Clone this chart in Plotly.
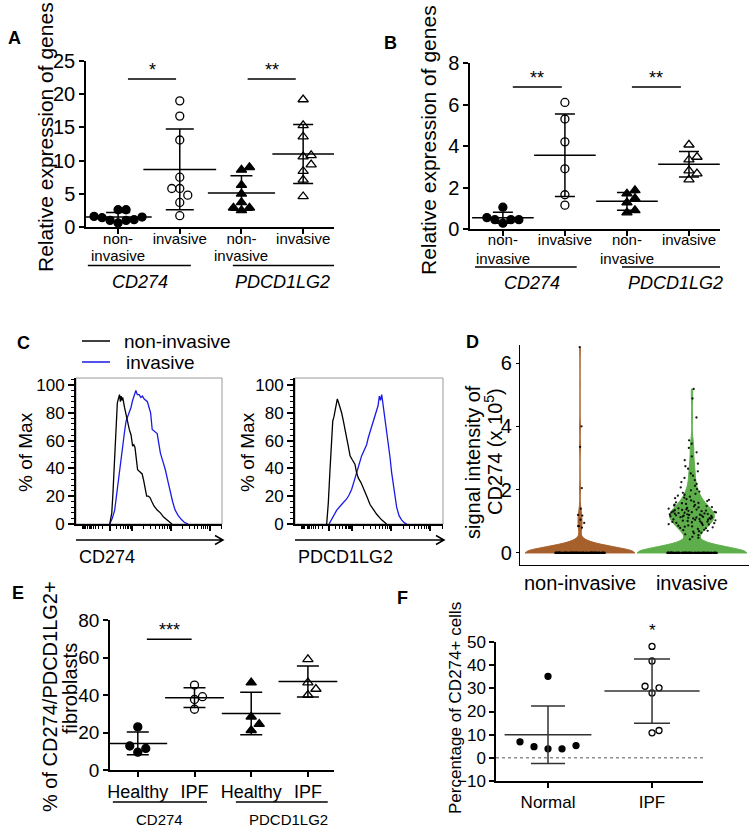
import numpy as np
import plotly.graph_objects as go

W, H = 754, 830
FONT = "Liberation Sans, Arial, Helvetica, sans-serif"

# ---------------- data ----------------
# Panel A (relative expression, qPCR)
A_TICKS_ROW1 = ["non-", "invasive", "non-", "invasive"]
A_TICKS_ROW2 = ["invasive", "", "invasive", ""]
A_GROUPS = ["<i>CD274</i>", "<i>PDCD1LG2</i>"]
A_CD274_NON = [1.6, 1.5, 2.6, 2.6, 1.4, 1.0, 1.0, 1.1, 0.6]
A_CD274_INV = [19.0, 16.7, 13.1, 7.5, 5.8, 5.8, 4.8, 3.7, 1.7]
A_PD_NON = [9.0, 8.6, 6.3, 5.0, 3.7, 2.9, 2.9, 2.5]
A_PD_INV = [19.2, 15.3, 13.6, 10.8, 10.6, 9.4, 8.4, 7.1, 4.6]
A_SIG = ["*", "**"]
A_SIG_Y = 22.3
A_YTICKS = [0, 5, 10, 15, 20, 25]

# Panel B
B_TICKS_ROW1 = A_TICKS_ROW1
B_TICKS_ROW2 = A_TICKS_ROW2
B_GROUPS = A_GROUPS
B_CD274_NON = [0.55, 0.45, 0.45, 1.05, 0.45, 0.28]
B_CD274_INV = [6.1, 5.3, 4.2, 2.9, 1.65, 1.15]
B_PD_NON = [1.7, 1.86, 1.48, 1.27, 0.9, 0.79]
B_PD_INV = [4.06, 3.47, 3.34, 2.81, 2.67, 2.38]
B_SIG = ["**", "**"]
B_SIG_Y = 6.84
B_YTICKS = [0, 2, 4, 6, 8]

# Panel C (flow histograms, % of max vs channel)
C_LEGEND = ["non-invasive", "invasive"]
C1_BLACK_X = [23.1, 24.5, 25.3, 26.2, 26.9, 27.6, 28.3, 29.0, 29.8, 30.4,
              30.9, 31.5, 32.0, 33.2, 34.3, 35.4, 36.5, 37.7, 38.8, 39.6,
              40.4, 41.3, 42.2, 43.3, 44.4, 45.3, 46.2, 47.3, 48.4, 49.5,
              50.7, 52.0, 53.4, 55.6, 57.8, 60.0, 62.3, 64.0, 65.7]
C1_BLACK_Y = [0, 8, 22, 40, 56, 75, 87, 90, 93, 88,
              92, 89, 91, 84, 78, 72, 68, 64, 56, 57,
              55, 47, 39, 38, 37, 36, 32, 26, 20, 20,
              19, 16, 13, 10, 8, 5, 3, 1.5, 0]
C1_BLUE_X = [23.1, 24.8, 26.5, 28.2, 29.8, 31.0, 32.0, 33.2, 34.3, 35.4,
             36.5, 37.7, 38.8, 40.0, 41.0, 42.0, 43.3, 44.4, 45.5, 46.6,
             47.8, 48.9, 50.0, 51.1, 52.2, 53.3, 54.4, 55.6, 56.7, 57.8,
             59.5, 61.2, 62.9, 64.6, 66.2, 67.9, 70.0, 72.4, 74.5, 76.9]
C1_BLUE_Y = [0, 4, 10, 25, 39, 49, 58, 66, 74, 77,
             80, 84, 89, 93, 96, 93, 93, 91, 92, 90,
             89, 88, 84, 80, 68, 67, 66, 65, 58, 51,
             45, 39, 31, 22, 16, 10, 6, 3, 1, 0]
C2_BLACK_X = [21.4, 22.5, 23.6, 24.6, 25.5, 26.3, 27.0, 27.8, 28.6, 29.5,
              30.4, 31.5, 32.7, 33.8, 34.9, 36.0, 37.2, 38.8, 40.5, 41.6,
              42.8, 44.5, 46.2, 48.5, 50.7, 53.0, 55.2, 58.5, 61.9]
C2_BLACK_Y = [0, 15, 38, 60, 74, 77, 81, 86, 90, 87,
              84, 80, 74, 69, 62, 56, 49, 46, 43, 37,
              33, 30, 26, 20, 14, 10, 7, 3, 0]
C2_BLUE_X = [23.0, 25.0, 28.2, 31.5, 34.9, 36.6, 38.3, 40.0, 41.7, 42.8,
             45.0, 46.7, 48.4, 49.5, 50.7, 51.8, 52.9, 54.0, 55.2, 56.1,
             57.0, 57.8, 58.6, 59.7, 61.3, 63.0, 64.2, 65.3, 67.0, 68.7,
             70.3, 72.0, 73.8, 75.5]
C2_BLUE_Y = [0, 4, 10, 14, 18, 21, 25, 31, 38, 41,
             49, 53, 57, 62, 66, 70, 74, 78, 82, 85,
             92, 89, 93, 84, 72, 60, 48, 37, 24, 12,
             6, 3, 1, 0]
C_XLABELS = ["CD274", "PDCD1LG2"]
C_YTICKS = [0, 20, 40, 60, 80, 100]

# Panel D (single-cell signal, x 10^5)
D_CATS = ["non-invasive", "invasive"]
D_NON_ZERO_COUNT = 150
D_NON_NONZERO = [6.5, 4.0, 3.35, 2.05, 1.4, 1.2, 1.18, 1.05, 0.95, 0.85, 0.85, 0.8]
D_INV_ZERO_COUNT = 120
D_INV_NONZERO = [
    0.43, 0.48, 0.51, 0.56, 0.59, 0.62, 0.64, 0.67, 0.69, 0.70,
    0.72, 0.73, 0.76, 0.78, 0.79, 0.81, 0.83, 0.84, 0.86, 0.87,
    0.88, 0.90, 0.91, 0.93, 0.94, 0.95, 0.96, 0.97, 0.98, 0.99,
    1.00, 1.01, 1.02, 1.03, 1.05, 1.05, 1.06, 1.07, 1.08, 1.09,
    1.10, 1.11, 1.12, 1.12, 1.13, 1.14, 1.15, 1.16, 1.17, 1.18,
    1.18, 1.19, 1.20, 1.21, 1.22, 1.22, 1.23, 1.24, 1.25, 1.26,
    1.27, 1.28, 1.28, 1.29, 1.30, 1.31, 1.32, 1.33, 1.34, 1.35,
    1.36, 1.37, 1.38, 1.40, 1.41, 1.42, 1.44, 1.45, 1.47, 1.48,
    1.50, 1.52, 1.53, 1.55, 1.57, 1.58, 1.60, 1.62, 1.64, 1.66,
    1.68, 1.70, 1.73, 1.75, 1.78, 1.81, 1.84, 1.87, 1.90, 1.94,
    1.98, 2.02, 2.07, 2.12, 2.18, 2.24, 2.30, 2.37, 2.44, 2.51,
    2.58, 2.66, 2.74, 2.82, 2.93, 3.05, 3.18, 3.32, 3.45, 3.56,
    4.28, 4.88, 5.18]
D_YTICKS = [0, 2, 4, 6]

# Panel E
E_TICKS = ["Healthy", "IPF", "Healthy", "IPF"]
E_GROUPS = ["CD274", "PDCD1LG2"]
E_CD274_H = [23.0, 12.8, 11.5, 9.5]
E_CD274_IPF = [45.3, 39.1, 37.6, 32.4]
E_PD_H = [46.6, 28.4, 24.5, 21.2]
E_PD_IPF = [59.0, 46.6, 43.2, 40.0]
E_SIG = "***"
E_SIG_Y = 69.7
E_YTICKS = [0, 20, 40, 60, 80]

# Panel F
F_CATS = ["Normal", "IPF"]
F_NORMAL = [35.2, 6.9, 5.3, 4.8, 3.9, 3.9]
F_IPF = [48.1, 41.8, 30.9, 30.2, 28.0, 11.8, 10.8]
F_SIG = "*"
F_YTICKS = [-10, 0, 10, 20, 30, 40, 50]

# ---------------- helpers ----------------
def px_x(p):
    return p / W


def px_y(p):
    return 1 - p / H


def swarm(vals, ppu, d):
    """beeswarm offsets in px for values (ppu = px per data unit)."""
    vals = list(vals)
    order = np.argsort(vals, kind="stable")
    placed = []
    offs = [0.0] * len(vals)
    cands = [0.0]
    for j in range(1, 25):
        cands += [j * d, -j * d]
    for i in order:
        v = vals[i]
        for c in cands:
            if all(np.hypot((v - pv) * ppu, c - po) >= d * 0.98 for pv, po in placed):
                break
        placed.append((v, c))
        offs[i] = c
    return np.array(offs)


fig = go.Figure()
annotations = []
shapes = []


def ann(text, xpx, ypx, size, bold=False, **kw):
    t = f"<b>{text}</b>" if bold else text
    d = dict(text=t, x=px_x(xpx), y=px_y(ypx), xref="paper", yref="paper",
             showarrow=False, font=dict(size=size, family=FONT, color="black"),
             xanchor="center", yanchor="middle")
    d.update(kw)
    annotations.append(d)


def dot_group(ax, cat, vals, symbol, ppu, ppc, d, msize, mean_w, cap_w,
              col="black", lw=1.5, mlw=1.3):
    offs = swarm(vals, ppu, d) / ppc
    xs = cat + offs
    fig.add_trace(go.Scatter(
        x=xs, y=vals, mode="markers", xaxis="x" + ax, yaxis="y" + ax,
        marker=dict(symbol=symbol, size=msize, color="black",
                    line=dict(width=mlw, color="black")),
        cliponaxis=False, showlegend=False, hoverinfo="y"))
    m = float(np.mean(vals))
    s = float(np.std(vals, ddof=1))
    fig.add_trace(go.Scatter(
        x=[cat], y=[m], mode="markers", xaxis="x" + ax, yaxis="y" + ax,
        marker=dict(symbol="line-ew", size=mean_w, color=col,
                    line=dict(width=lw, color=col)),
        error_y=dict(type="data", array=[s], width=cap_w, thickness=lw, color=col),
        cliponaxis=False, showlegend=False, hoverinfo="skip"))


axis_common = dict(showgrid=False, zeroline=False, showline=True, linecolor="black",
                   ticks="outside", tickcolor="black", automargin=False)

layout_axes = {}


def set_axes(ax, xdom, ydom, xr, yr, xtv, xtt, ytv, xfont, yfont, lw=1.5,
             xticklen=5, yticklen=5, extra_x=None, extra_y=None):
    xa = dict(axis_common, domain=[px_x(xdom[0]), px_x(xdom[1])], range=xr,
              tickvals=xtv, tickfont=dict(size=xfont, family=FONT, color="black"),
              linewidth=lw, tickwidth=lw, ticklen=xticklen, anchor="y" + ax)
    if xtt is not None:
        xa["ticktext"] = xtt
    ya = dict(axis_common, domain=[px_y(ydom[1]), px_y(ydom[0])], range=yr,
              tickvals=ytv, tickfont=dict(size=yfont, family=FONT, color="black"),
              linewidth=lw, tickwidth=lw, ticklen=yticklen, anchor="x" + ax)
    if extra_x:
        xa.update(extra_x)
    if extra_y:
        ya.update(extra_y)
    layout_axes["xaxis" + ax] = xa
    layout_axes["yaxis" + ax] = ya


def second_row(xref, row2, ypx, size):
    for i, t in enumerate(row2):
        if t:
            annotations.append(dict(text=t, x=i, y=px_y(ypx), xref=xref, yref="paper",
                                    showarrow=False,
                                    font=dict(size=size, family=FONT, color="black"),
                                    xanchor="center", yanchor="middle"))


def arrow(x0, x1, ypx):
    path = (f"M {px_x(x0)},{px_y(ypx)} L {px_x(x1)},{px_y(ypx)} "
            f"M {px_x(x1 - 8)},{px_y(ypx - 4.5)} L {px_x(x1)},{px_y(ypx)} "
            f"L {px_x(x1 - 8)},{px_y(ypx + 4.5)}")
    shapes.append(dict(type="path", path=path, xref="paper", yref="paper",
                       line=dict(color="black", width=1.5)))


# ---------------- Panel A ----------------
A_PPU = 166 / 25
A_PPC = 61.7
dot_group("", 0, A_CD274_NON, "circle", A_PPU, A_PPC, 8, 8, 48, 12)
dot_group("", 1, A_CD274_INV, "circle-open", A_PPU, A_PPC, 8, 8, 52, 14)
dot_group("", 2, A_PD_NON, "triangle-up", A_PPU, A_PPC, 8, 9, 48, 11)
dot_group("", 3, A_PD_INV, "triangle-up-open", A_PPU, A_PPC, 8, 9, 44, 10)
set_axes("", (86, 334), (61, 227), [-0.52, 3.5], [0, 25], [0, 1, 2, 3], A_TICKS_ROW1,
         A_YTICKS, 15, 20, extra_x=dict(ticklabelstandoff=-8))
second_row("x", A_TICKS_ROW2, 256, 15)
for g, (x0, x1, xc) in enumerate([(-0.49, 1.18, 0.36), (1.86, 3.5, 2.67)]):
    shapes.append(dict(type="line", xref="x", yref="paper", x0=x0, x1=x1,
                       y0=px_y(265.5), y1=px_y(265.5), line=dict(color="black", width=1.5)))
    annotations.append(dict(text=A_GROUPS[g], x=xc, y=px_y(282), xref="x", yref="paper",
                            showarrow=False, font=dict(size=18, family=FONT, color="black"),
                            xanchor="center", yanchor="middle"))
for k, (x0, x1) in enumerate([(0.16, 0.94), (2.1, 2.88)]):
    shapes.append(dict(type="line", xref="x", yref="y", x0=x0, x1=x1, y0=A_SIG_Y, y1=A_SIG_Y,
                       line=dict(color="black", width=1.5)))
    annotations.append(dict(text=A_SIG[k], x=(x0 + x1) / 2, y=A_SIG_Y, xref="x", yref="y",
                            showarrow=False, font=dict(size=18, family=FONT, color="black"),
                            xanchor="center", yanchor="bottom", yshift=-3))
ann("Relative expression of genes", 45, 137, 21, textangle=-90)
ann("A", 14, 38, 18, bold=True)

# ---------------- Panel B ----------------
B_PPU = 166 / 8
B_PPC = 62
dot_group("2", 0, B_CD274_NON, "circle", B_PPU, B_PPC, 8, 8, 44, 10)
dot_group("2", 1, B_CD274_INV, "circle-open", B_PPU, B_PPC, 8, 8, 44, 10)
dot_group("2", 2, B_PD_NON, "triangle-up", B_PPU, B_PPC, 8, 9, 44, 10)
dot_group("2", 3, B_PD_INV, "triangle-up-open", B_PPU, B_PPC, 8, 9, 44, 10)
set_axes("2", (470, 720), (63, 229), [-0.53, 3.5], [0, 8], [0, 1, 2, 3], B_TICKS_ROW1,
         B_YTICKS, 15, 20, extra_x=dict(ticklabelstandoff=-9))
second_row("x2", B_TICKS_ROW2, 258, 15)
for g, (x0, x1, xc) in enumerate([(-0.45, 1.19, 0.47), (1.92, 3.53, 2.79)]):
    shapes.append(dict(type="line", xref="x2", yref="paper", x0=x0, x1=x1,
                       y0=px_y(267), y1=px_y(267), line=dict(color="black", width=1.5)))
    annotations.append(dict(text=B_GROUPS[g], x=xc, y=px_y(283), xref="x2", yref="paper",
                            showarrow=False, font=dict(size=18, family=FONT, color="black"),
                            xanchor="center", yanchor="middle"))
for k, (x0, x1) in enumerate([(0.16, 0.95), (2.08, 2.87)]):
    shapes.append(dict(type="line", xref="x2", yref="y2", x0=x0, x1=x1, y0=B_SIG_Y, y1=B_SIG_Y,
                       line=dict(color="black", width=1.5)))
    annotations.append(dict(text=B_SIG[k], x=(x0 + x1) / 2, y=B_SIG_Y, xref="x2", yref="y2",
                            showarrow=False, font=dict(size=18, family=FONT, color="black"),
                            xanchor="center", yanchor="bottom", yshift=-3))
ann("Relative expression of genes", 428, 140, 21, textangle=-90)
ann("B", 390, 43, 18, bold=True)

# ---------------- Panel C ----------------
C_MAJOR = [23.0, 38.5, 65.0, 91.5]
C_MINOR = sorted(
    [23.0 + np.log10(k) * 15.5 for k in range(2, 10)]
    + [23.0 - np.log10(k) * 15.5 for k in range(2, 10)]
    + [7.5 - np.log10(k) * 4 for k in range(2, 6)]
    + [d + np.log10(k) * 26.5 for d in (38.5, 65.0) for k in range(2, 10)]
    + [91.5 + np.log10(k) * 26.5 for k in range(2, 4)])
for ax, bx, by, ux, uy in [("3", C1_BLACK_X, C1_BLACK_Y, C1_BLUE_X, C1_BLUE_Y),
                           ("4", C2_BLACK_X, C2_BLACK_Y, C2_BLUE_X, C2_BLUE_Y)]:
    fig.add_trace(go.Scatter(x=ux, y=uy, mode="lines", xaxis="x" + ax, yaxis="y" + ax,
                             line=dict(color="#1a1ae6", width=1.3), showlegend=False,
                             name=C_LEGEND[1]))
    fig.add_trace(go.Scatter(x=bx, y=by, mode="lines", xaxis="x" + ax, yaxis="y" + ax,
                             line=dict(color="black", width=1.3), showlegend=False,
                             name=C_LEGEND[0]))
for ax, (x0, x1) in [("3", (76, 222)), ("4", (295, 443))]:
    set_axes(ax, (x0, x1), (378, 524), [0, 100], [0, 105], C_MAJOR, None,
             C_YTICKS, 12, 17, lw=1.8, xticklen=5, yticklen=6,
             extra_x=dict(showticklabels=False,
                          minor=dict(tickvals=C_MINOR, ticks="outside", ticklen=3,
                                     tickwidth=1, tickcolor="black")),
             extra_y=dict(minor=dict(dtick=4, ticks="outside", ticklen=3, tickwidth=1,
                                     tickcolor="black")))
    shapes.append(dict(type="rect", xref="x%s domain" % ax, yref="y%s domain" % ax,
                       x0=0, x1=1, y0=0, y1=1, line=dict(color="#9a9a9a", width=1),
                       layer="below"))
    arrow(x0, x1 + 1, 540)
ann(C_XLABELS[0], 77, 557, 18, xanchor="left")
ann(C_XLABELS[1], 296, 557, 18, xanchor="left")
ann("% of Max", 25, 452, 19, textangle=-90)
ann("% of Max", 247, 452, 19, textangle=-90)
shapes.append(dict(type="line", xref="paper", yref="paper", x0=px_x(82), x1=px_x(110),
                   y0=px_y(341), y1=px_y(341), line=dict(color="black", width=1.5)))
shapes.append(dict(type="line", xref="paper", yref="paper", x0=px_x(82), x1=px_x(110),
                   y0=px_y(362), y1=px_y(362), line=dict(color="#1a1ae6", width=1.5)))
ann(C_LEGEND[0], 122, 341, 19, xanchor="left")
ann(C_LEGEND[1], 124, 362, 19, xanchor="left")
ann("C", 23, 343, 18, bold=True)

# ---------------- Panel D ----------------
D_COLORS = ["#A6602C", "#5EAF4C"]
for k, (zc, nz) in enumerate([(D_NON_ZERO_COUNT, D_NON_NONZERO),
                              (D_INV_ZERO_COUNT, D_INV_NONZERO)]):
    yv = [0.0] * zc + list(nz)
    fig.add_trace(go.Violin(
        x0=k, y=yv, xaxis="x5", yaxis="y5", width=0.98, spanmode="hard", bandwidth=0.2,
        fillcolor=D_COLORS[k], line=dict(color=D_COLORS[k], width=1), opacity=1,
        points="all", jitter=0.45, pointpos=0,
        marker=dict(size=2.3, color="black", opacity=0.9),
        box_visible=False, meanline_visible=False, showlegend=False, name=D_CATS[k],
        hoverinfo="y"))
set_axes("5", (520, 749), (345, 565), [-0.536, 1.509], [-0.38, 6.57], [0, 1], D_CATS,
         D_YTICKS, 20, 20, lw=1.2, xticklen=0, yticklen=3,
         extra_x=dict(ticks=""))
ann("signal intensity of", 473, 462, 20, textangle=-90)
ann("CD274 (x 10<sup>5</sup>)", 493, 452, 20, textangle=-90)
ann("D", 472, 342, 18, bold=True)

# ---------------- Panel E ----------------
E_PPU = 150 / 80
E_PPC = 56.7
dot_group("6", 0, E_CD274_H, "circle", E_PPU, E_PPC, 8, 8, 42, 11)
dot_group("6", 1, E_CD274_IPF, "circle-open", E_PPU, E_PPC, 8, 8, 42, 11)
dot_group("6", 2, E_PD_H, "triangle-up", E_PPU, E_PPC, 8, 9, 42, 11)
dot_group("6", 3, E_PD_IPF, "triangle-up-open", E_PPU, E_PPC, 8, 9, 42, 11)
set_axes("6", (110, 334), (620, 770), [-0.49, 3.46], [0, 80], [0, 1, 2, 3], E_TICKS,
         E_YTICKS, 18, 19)
for g, (x0, x1, xc) in enumerate([(-0.44, 1.22, 0.39), (1.73, 3.35, 2.65)]):
    shapes.append(dict(type="line", xref="x6", yref="paper", x0=x0, x1=x1,
                       y0=px_y(802), y1=px_y(802), line=dict(color="black", width=1.5)))
    annotations.append(dict(text=E_GROUPS[g], x=xc, y=px_y(819), xref="x6", yref="paper",
                            showarrow=False, font=dict(size=15, family=FONT, color="black"),
                            xanchor="center", yanchor="middle"))
shapes.append(dict(type="line", xref="x6", yref="y6", x0=0.16, x1=0.95, y0=E_SIG_Y, y1=E_SIG_Y,
                   line=dict(color="black", width=1.5)))
annotations.append(dict(text=E_SIG, x=0.555, y=E_SIG_Y, xref="x6", yref="y6",
                        showarrow=False, font=dict(size=18, family=FONT, color="black"),
                        xanchor="center", yanchor="bottom", yshift=-3))
ann("% of CD274/PDCD1LG2+", 50, 697, 20, textangle=-90)
ann("fibroblasts", 70, 689, 20, textangle=-90)
ann("E", 18, 593, 18, bold=True)

# ---------------- Panel F ----------------
F_PPU = 139 / 60
F_PPC = 104
FCOL = "#333333"
dot_group("7", 0, F_NORMAL, "circle", F_PPU, F_PPC, 14, 6, 62, 17, col=FCOL)
dot_group("7", 1, F_IPF, "circle-open", F_PPU, F_PPC, 7, 6, 68, 18, col=FCOL)
set_axes("7", (496, 703), (642, 781), [-0.5, 1.49], [-10, 50], [0, 1], F_CATS,
         F_YTICKS, 17, 17)
shapes.append(dict(type="line", xref="x7 domain", yref="y7", x0=0, x1=1, y0=0, y1=0,
                   line=dict(color="#555555", width=1, dash="dot")))
annotations.append(dict(text=F_SIG, x=1, y=50, xref="x7", yref="y7",
                        showarrow=False, font=dict(size=17, family=FONT, color="black"),
                        xanchor="center", yanchor="bottom", yshift=0))
ann("Percentage of CD274+ cells", 455, 708, 17, textangle=-90)
ann("F", 403, 598, 18, bold=True)

fig.update_layout(
    width=W, height=H, margin=dict(l=0, r=0, t=0, b=0, autoexpand=False),
    paper_bgcolor="white", plot_bgcolor="white",
    font=dict(family=FONT, color="black"),
    annotations=annotations, shapes=shapes, showlegend=False,
    violinmode="overlay", hovermode="closest",
    **layout_axes)

fig.write_html("out.html", config={"displayModeBar": False},
               post_script="document.body.style.margin='0';document.body.style.padding='0';")
